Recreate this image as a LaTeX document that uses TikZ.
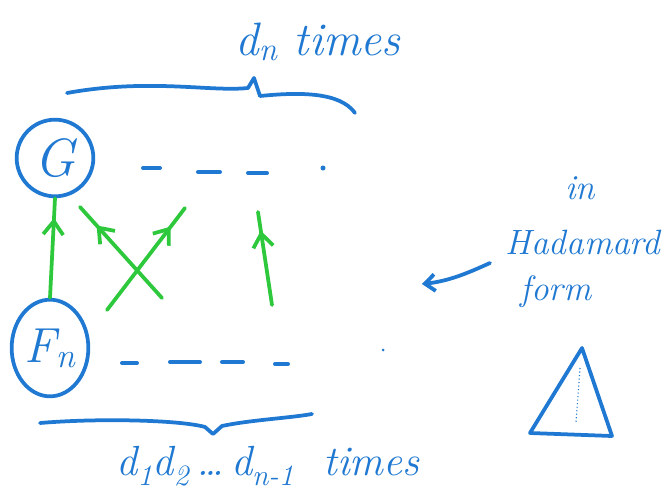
\documentclass[tikz,border=0pt]{standalone}
\usepackage{fontspec}
\usepackage{tikz}
\usetikzlibrary{arrows.meta, decorations.markings, shapes.geometric, positioning}
\definecolor{inkBlue}{HTML}{1F78D1}
\definecolor{inkGreen}{HTML}{2DC83C}
\tikzset{
  inkline/.style   = {inkBlue, line width=3.2pt, line cap=round, line join=round},
  greenline/.style = {inkGreen, line width=3.2pt, line cap=round},
  midhead/.style   = {decoration={markings,
                        mark=at position #1 with {\arrow{Straight Barb[length=4mm, width=6mm]}}},
                      postaction={decorate}},
  hand/.style      = {inkBlue, font=\fontsize{#1}{#1}\selectfont\itshape},
}
\newcommand{\sub}[1]{\textsubscript{#1}}

\begin{document}
\begin{tikzpicture}[x=0.03cm, y=-0.03cm,
    ring/.style={circle, draw=inkBlue, line width=3.2pt, minimum size=2.3cm, inner sep=0pt},
    oval/.style={ellipse, draw=inkBlue, line width=3.2pt, minimum width=2.3cm, minimum height=2.9cm, inner sep=0pt},
    dashbit/.style={inkline, line width=3.4pt}]
  \useasboundingbox (0,0) rectangle (666,504);
  \node[ring, hand=46] (G) at (55,158) {G};
  \node[oval, hand=42] (F) at (50,348) {F\sub{n}};
  \node[hand=40] (top) at (318,42) {d\sub{n} times};
  \node[hand=36] (bot) at (268,466) {d\sub{1}d\sub{2}\,\ldots\,d\sub{n-1} \ times};
  \node[hand=30] (in) at (580,188) {in};
  \node[hand=30] (had) at (583,242) {Hadamard};
  \node[hand=30] (form) at (556,292) {form};
  \draw[inkline] (67,93) .. controls (150,78) and (210,92) .. (248,88) -- (254,78)
    -- (260,96) .. controls (300,92) and (340,92) .. (355,113);
  \draw[inkline] (40,423) .. controls (100,418) and (180,420) .. (205,427) -- (213,434)
    -- (222,426) .. controls (250,420) and (290,418) .. (312,414);
  \foreach \a/\b/\y in {143/160/168, 198/220/172, 248/267/173}
    \draw[dashbit] (\a,\y) -- (\b,\y);
  \fill[inkBlue] (323,168) circle (2.5);
  \foreach \a/\b/\y in {122/137/363, 170/200/362, 222/243/362, 275/288/364}
    \draw[dashbit] (\a,\y) -- (\b,\y);
  \fill[inkBlue] (383,350) circle (1.5);
  \coordinate (x1) at (162,298);
  \coordinate (y1) at (80,207);
  \coordinate (x2) at (107,310);
  \coordinate (y2) at (185,208);
  \coordinate (x3) at (272,305);
  \coordinate (y3) at (258,212);
  \draw[greenline, midhead=0.8] (F.north) -- (G.south);
  \draw[greenline, midhead=0.8] (x1) -- (y1);
  \draw[greenline, midhead=0.82] (x2) -- (y2);
  \draw[greenline, midhead=0.8] (x3) -- (y3);
  \coordinate (p) at (490,263);
  \coordinate (q) at (422,284);
  \draw[inkline, -{Straight Barb[length=3mm, width=5mm]}] (p) .. controls (470,272) and (450,281) .. (q);
  \draw[inkline] (582,348) -- (530,433) -- (612,436) -- cycle;
  \draw[inkBlue, line width=1pt, dotted] (580,368) -- (576,422);
\end{tikzpicture}
\end{document}
